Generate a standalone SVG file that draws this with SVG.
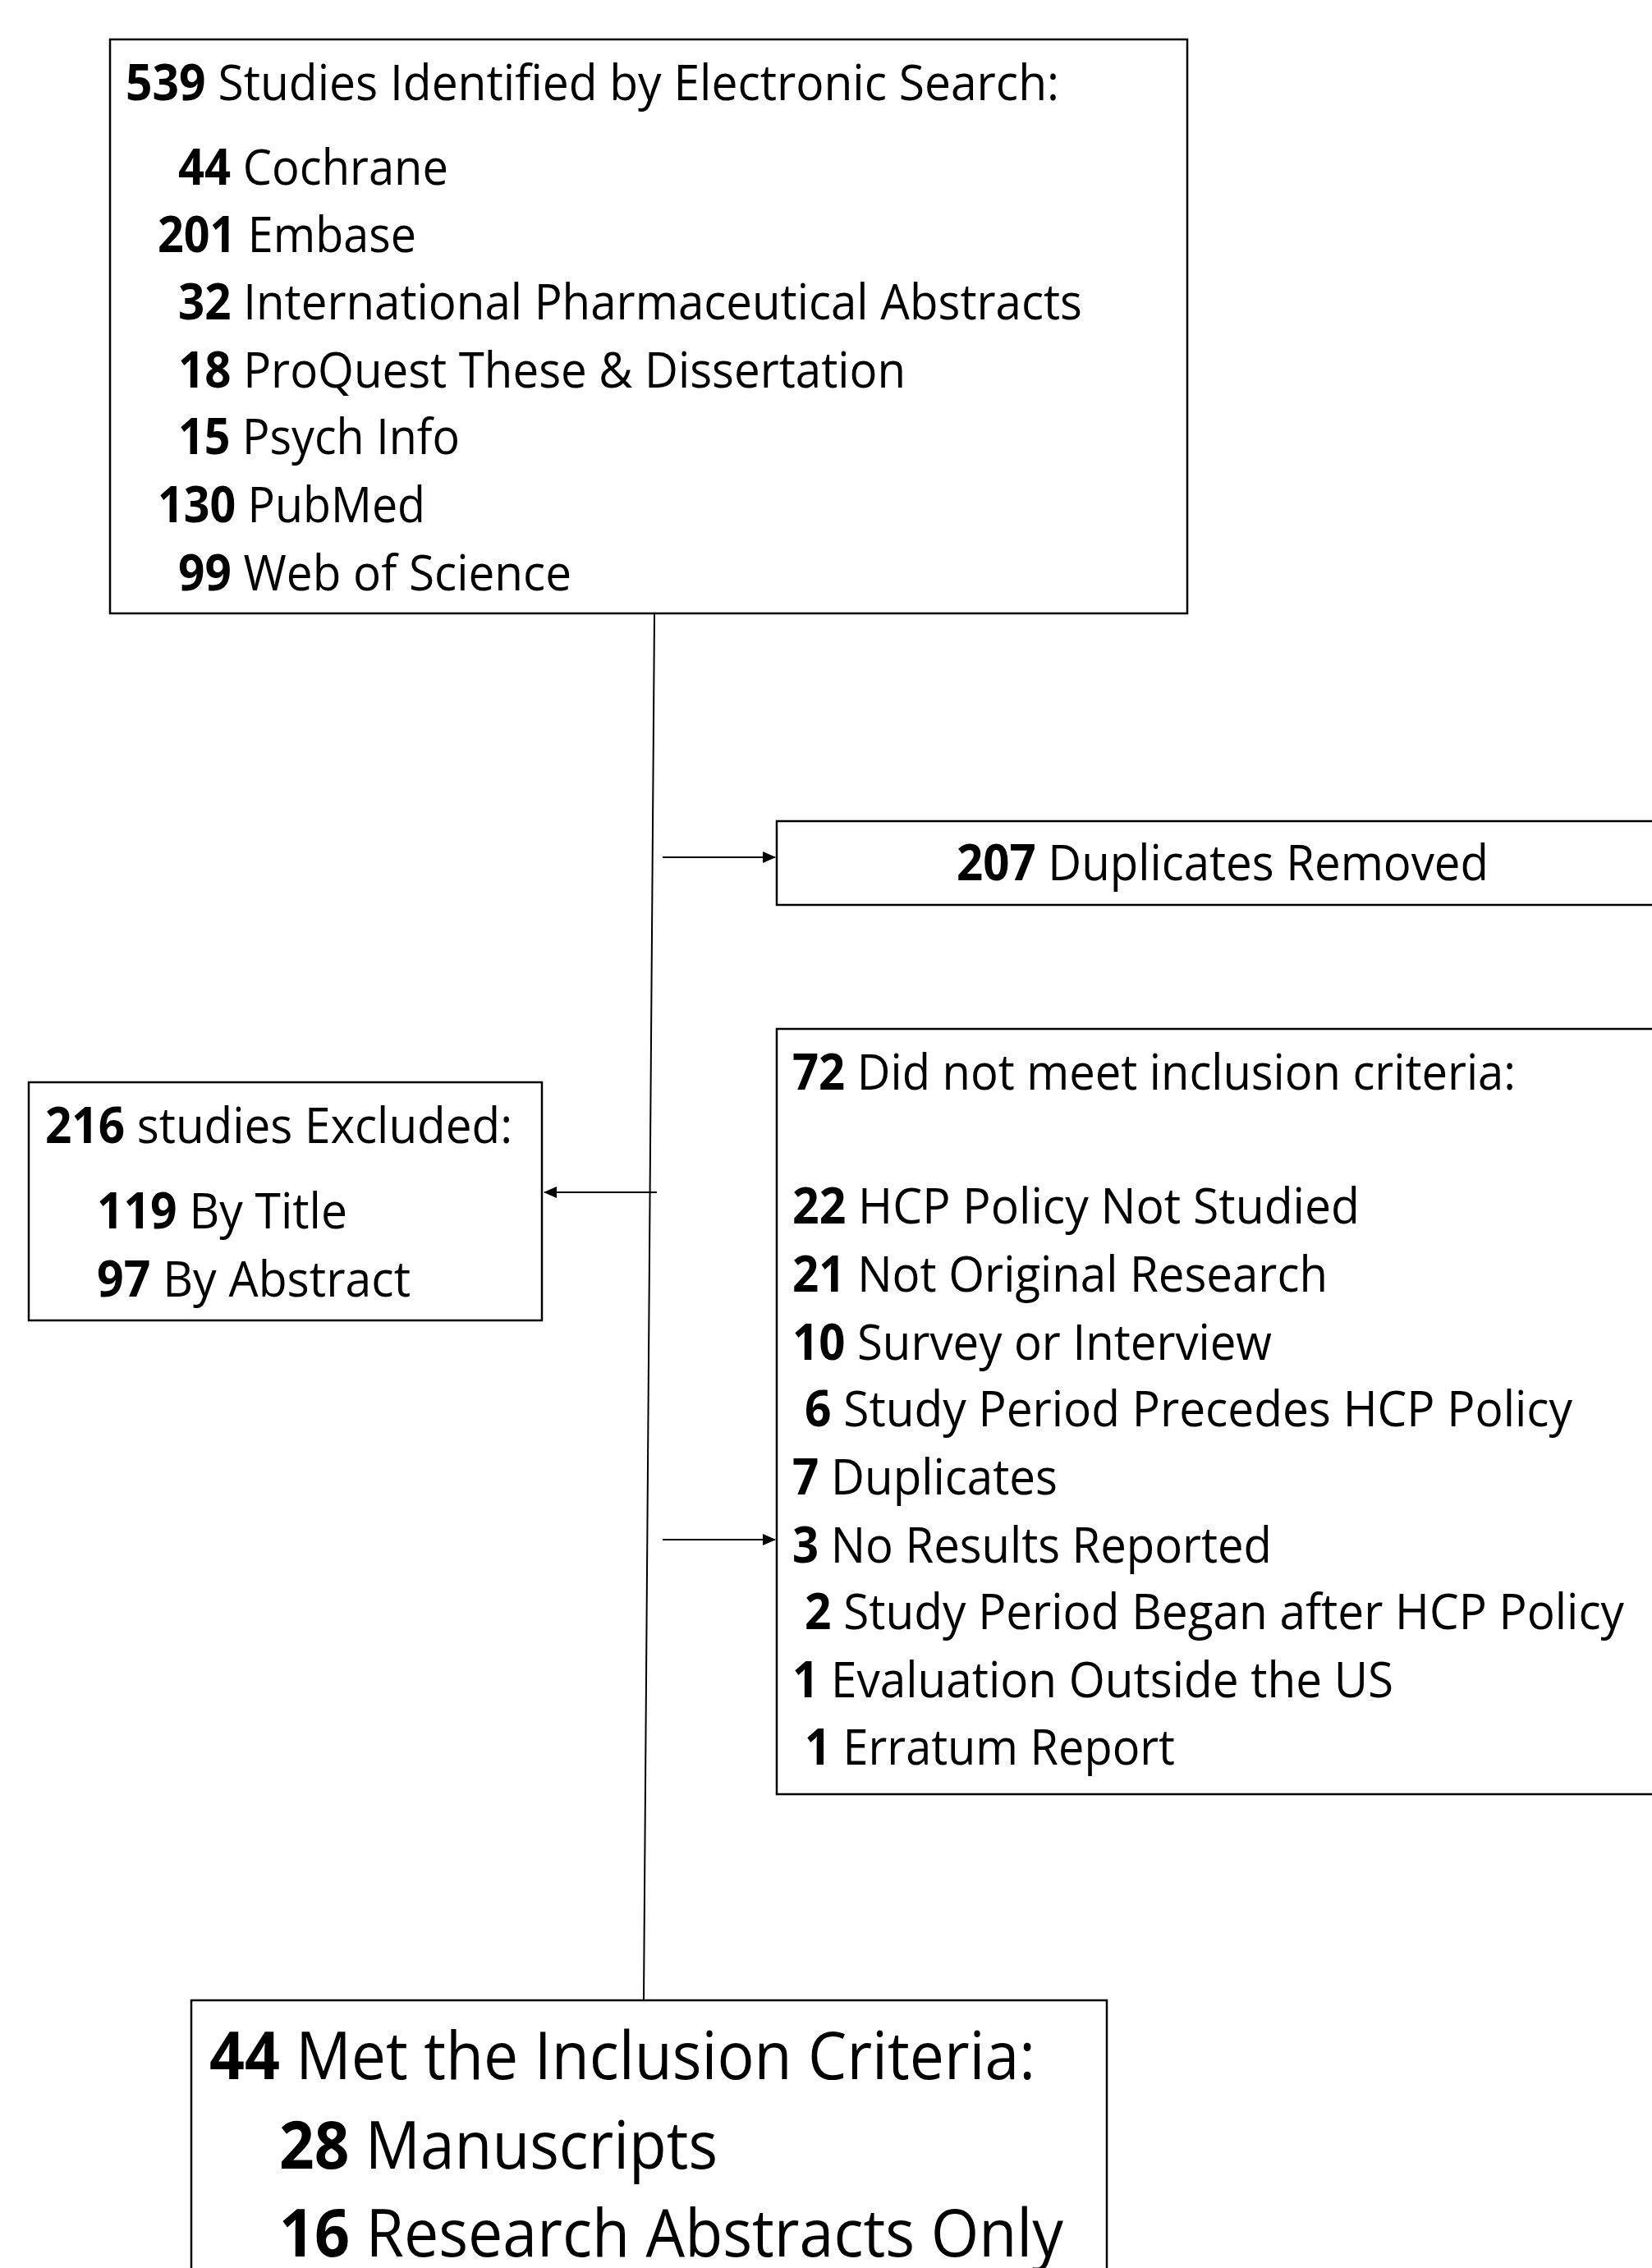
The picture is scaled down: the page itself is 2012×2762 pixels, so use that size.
<svg xmlns="http://www.w3.org/2000/svg" width="2012" height="2762" viewBox="0 0 2012 2762">
<style>
.box{fill:#fff;stroke:#000;stroke-width:2.5}
.t{font-family:"Liberation Sans Narrow","Open Sans","Liberation Sans",sans-serif;font-size:60px;fill:#000}
.big{font-size:80px}
.n{font-weight:bold}
.conn{stroke:#000;stroke-width:2;fill:none}
</style>
<defs>
<marker id="ah" markerUnits="userSpaceOnUse" markerWidth="16" markerHeight="16" viewBox="0 0 16 16" refX="15" refY="8" orient="auto">
<path d="M0,1 L16,8 L0,15 Z" fill="#000"/>
</marker>
</defs>
<rect width="2012" height="2762" fill="#fff"/>

<g id="connectors">
<line class="conn" x1="797" y1="748" x2="784" y2="2436"/>
<line class="conn" x1="807" y1="1044" x2="944" y2="1044" marker-end="url(#ah)"/>
<line class="conn" x1="800" y1="1452" x2="663" y2="1452" marker-end="url(#ah)"/>
<line class="conn" x1="807" y1="1875" x2="944" y2="1875" marker-end="url(#ah)"/>
</g>

<g id="search">
<rect class="box" x="134" y="48" width="1312" height="699"/>
<text class="t" x="153" y="122" textLength="1137" lengthAdjust="spacingAndGlyphs"><tspan class="n">539</tspan> Studies Identified by Electronic Search:</text>
<text class="t" x="217" y="225" textLength="329" lengthAdjust="spacingAndGlyphs"><tspan class="n">44</tspan> Cochrane</text>
<text class="t" x="192" y="307" textLength="315" lengthAdjust="spacingAndGlyphs"><tspan class="n">201</tspan> Embase</text>
<text class="t" x="217" y="389" textLength="1101" lengthAdjust="spacingAndGlyphs"><tspan class="n">32</tspan> International Pharmaceutical Abstracts</text>
<text class="t" x="217" y="472" textLength="886" lengthAdjust="spacingAndGlyphs"><tspan class="n">18</tspan> ProQuest These &amp; Dissertation</text>
<text class="t" x="217" y="553" textLength="343" lengthAdjust="spacingAndGlyphs"><tspan class="n">15</tspan> Psych Info</text>
<text class="t" x="192" y="636" textLength="326" lengthAdjust="spacingAndGlyphs"><tspan class="n">130</tspan> PubMed</text>
<text class="t" x="217" y="719" textLength="479" lengthAdjust="spacingAndGlyphs"><tspan class="n">99</tspan> Web of Science</text>
</g>

<g id="duplicates">
<rect class="box" x="946" y="1000" width="1100" height="102"/>
<text class="t" x="1165" y="1072" textLength="648" lengthAdjust="spacingAndGlyphs"><tspan class="n">207</tspan> Duplicates Removed</text>
</g>

<g id="excluded">
<rect class="box" x="35" y="1318" width="625" height="290"/>
<text class="t" x="55" y="1392" textLength="569" lengthAdjust="spacingAndGlyphs"><tspan class="n">216</tspan> studies Excluded:</text>
<text class="t" x="118" y="1496" textLength="305" lengthAdjust="spacingAndGlyphs"><tspan class="n">119</tspan> By Title</text>
<text class="t" x="118" y="1579" textLength="382" lengthAdjust="spacingAndGlyphs"><tspan class="n">97</tspan> By Abstract</text>
</g>

<g id="criteria">
<rect class="box" x="946" y="1253" width="1100" height="932"/>
<text class="t" x="965" y="1327" textLength="881" lengthAdjust="spacingAndGlyphs"><tspan class="n">72</tspan> Did not meet inclusion criteria:</text>
<text class="t" x="965" y="1490" textLength="691" lengthAdjust="spacingAndGlyphs"><tspan class="n">22</tspan> HCP Policy Not Studied</text>
<text class="t" x="965" y="1573" textLength="652" lengthAdjust="spacingAndGlyphs"><tspan class="n">21</tspan> Not Original Research</text>
<text class="t" x="965" y="1656" textLength="584" lengthAdjust="spacingAndGlyphs"><tspan class="n">10</tspan> Survey or Interview</text>
<text class="t" x="980" y="1737" textLength="935" lengthAdjust="spacingAndGlyphs"><tspan class="n">6</tspan> Study Period Precedes HCP Policy</text>
<text class="t" x="965" y="1820" textLength="323" lengthAdjust="spacingAndGlyphs"><tspan class="n">7</tspan> Duplicates</text>
<text class="t" x="965" y="1903" textLength="584" lengthAdjust="spacingAndGlyphs"><tspan class="n">3</tspan> No Results Reported</text>
<text class="t" x="980" y="1984" textLength="998" lengthAdjust="spacingAndGlyphs"><tspan class="n">2</tspan> Study Period Began after HCP Policy</text>
<text class="t" x="965" y="2067" textLength="732" lengthAdjust="spacingAndGlyphs"><tspan class="n">1</tspan> Evaluation Outside the US</text>
<text class="t" x="980" y="2149" textLength="451" lengthAdjust="spacingAndGlyphs"><tspan class="n">1</tspan> Erratum Report</text>
</g>

<g id="included">
<rect class="box" x="233" y="2436" width="1115" height="400"/>
<text class="t big" x="255" y="2532" textLength="1006" lengthAdjust="spacingAndGlyphs"><tspan class="n">44</tspan> Met the Inclusion Criteria:</text>
<text class="t big" x="340" y="2641" textLength="534" lengthAdjust="spacingAndGlyphs"><tspan class="n">28</tspan> Manuscripts</text>
<text class="t big" x="340" y="2748" textLength="955" lengthAdjust="spacingAndGlyphs"><tspan class="n">16</tspan> Research Abstracts Only</text>
</g>
</svg>
